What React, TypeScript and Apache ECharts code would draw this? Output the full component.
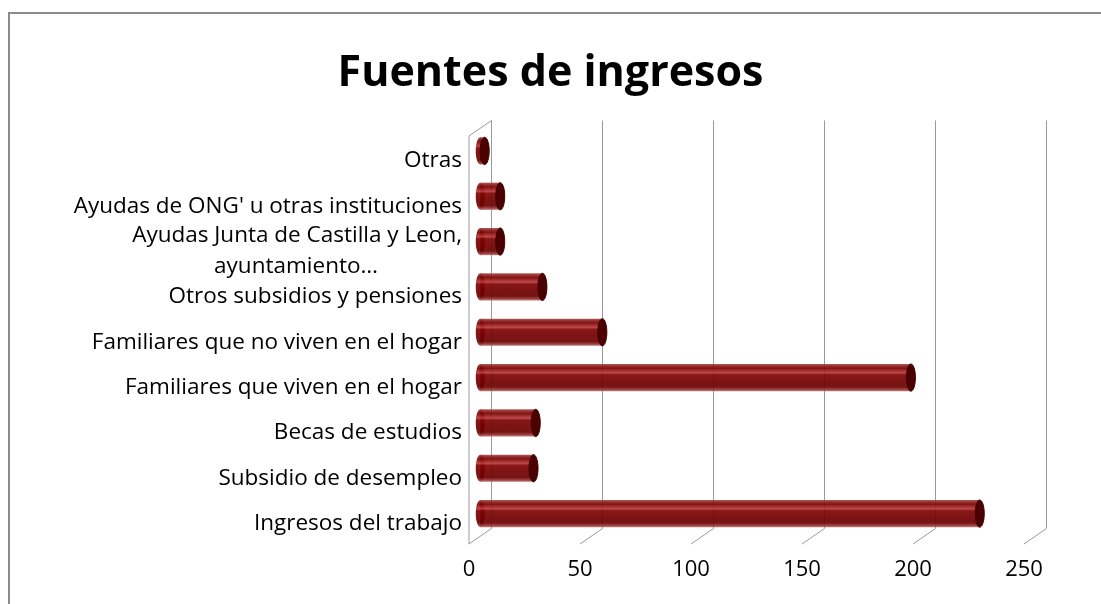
import React, { useEffect, useRef } from "react";
import * as echarts from "echarts";

const categories = [
  "Ingresos del trabajo",
  "Subsidio de desempleo",
  "Becas de estudios",
  "Familiares que viven en el hogar",
  "Familiares que no viven en el hogar",
  "Otros subsidios y pensiones",
  "Ayudas Junta de Castilla y Leon,\nayuntamiento…",
  "Ayudas de ONG' u otras instituciones",
  "Otras",
];
const values = [225, 24, 25, 194, 55, 28, 9, 9, 2];
const xTicks = [0, 50, 100, 150, 200, 250];

const DX = 22.5;
const DY = -15.5;
const FONT = "'Open Sans', 'Noto Sans', sans-serif";

export default function App() {
  const ref = useRef<HTMLDivElement>(null);
  useEffect(() => {
    if (!ref.current) return;
    const chart = echarts.init(ref.current, undefined, { renderer: "svg" });
    const bodyGrad = new echarts.graphic.LinearGradient(0, 0, 0, 1, [
      { offset: 0, color: "#a85050" },
      { offset: 0.08, color: "#8e1c1c" },
      { offset: 0.16, color: "#7a0000" },
      { offset: 0.27, color: "#a52828" },
      { offset: 0.33, color: "#b43a3a" },
      { offset: 0.39, color: "#820404" },
      { offset: 0.6, color: "#720000" },
      { offset: 0.84, color: "#6c0000" },
      { offset: 0.92, color: "#8e2a2a" },
      { offset: 1, color: "#b87070" },
    ]);
    chart.setOption({
      animation: false,
      title: {
        text: "Fuentes de ingresos",
        left: "center",
        top: 43,
        textStyle: { fontFamily: FONT, fontSize: 43, fontWeight: "bold", color: "#000" },
      },
      grid: { left: 469, top: 136, width: 555, height: 408 },
      xAxis: {
        type: "value",
        min: 0,
        max: 250,
        interval: 50,
        axisLine: { show: false },
        axisTick: { show: false },
        splitLine: { show: false },
        axisLabel: { fontFamily: FONT, fontSize: 22, color: "#000", margin: 12 },
      },
      yAxis: {
        type: "category",
        data: categories,
        axisLine: { show: false },
        axisTick: { show: false },
        axisLabel: {
          fontFamily: FONT,
          fontSize: 22.5,
          lineHeight: 26,
          color: "#000",
          margin: 7,
          formatter: (v: string) => {
            const parts = v.split("\n");
            if (parts.length > 1) return `{a|${parts[0]}}\n{b|${parts[1]}}`;
            return v;
          },
          rich: {
            a: { fontFamily: FONT, fontSize: 22.5, color: "#000", lineHeight: 31 },
            b: { fontFamily: FONT, fontSize: 22.5, color: "#000", lineHeight: 31, padding: [0, 84, 0, 0] },
          },
        },
      },
      series: [
        {
          type: "custom",
          z: 1,
          data: xTicks.map((t) => [t, 0]),
          renderItem: (params: any, api: any) => {
            const cs = params.coordSys;
            const x = api.coord([api.value(0), 0])[0];
            const top = cs.y;
            const bot = cs.y + cs.height;
            const stroke = { stroke: "#9a9a9a", lineWidth: 1 };
            const children: any[] = [
              { type: "line", shape: { x1: x + DX, y1: top + DY, x2: x + DX, y2: bot + DY }, style: stroke },
              { type: "line", shape: { x1: x + DX, y1: bot + DY, x2: x, y2: bot }, style: stroke },
            ];
            if (params.dataIndex === 0) {
              children.push(
                { type: "line", shape: { x1: x, y1: top, x2: x, y2: bot }, style: stroke },
                { type: "line", shape: { x1: x, y1: top, x2: x + DX, y2: top + DY }, style: stroke }
              );
            }
            return { type: "group", children };
          },
        },
        {
          type: "custom",
          z: 2,
          data: values.map((v, i) => [v, i]),
          renderItem: (params: any, api: any) => {
            const idx = api.value(1);
            const p0 = api.coord([0, idx]);
            const p1 = api.coord([api.value(0), idx]);
            const h = api.size([0, 1])[1] * 0.6;
            const ox = DX / 2;
            const oy = DY / 2;
            const x0 = p0[0] + ox;
            const x1 = p1[0] + ox;
            const cy = p0[1] + oy;
            const rx = 4.5;
            return {
              type: "group",
              children: [
                {
                  type: "ellipse",
                  shape: { cx: x0, cy, rx, ry: h / 2 },
                  style: { fill: bodyGrad, opacity: 0.92 },
                },
                {
                  type: "rect",
                  shape: { x: x0, y: cy - h / 2, width: Math.max(x1 - x0, 0), height: h },
                  style: { fill: bodyGrad, opacity: 0.92 },
                },
                {
                  type: "ellipse",
                  shape: { cx: x1, cy, rx, ry: h / 2 },
                  style: { fill: "#4c0000", stroke: "#3a0000", lineWidth: 1 },
                },
              ],
            };
          },
        },
      ],
    });
    return () => chart.dispose();
  }, []);
  return (
    <>
      <div
        ref={ref}
        style={{ position: "fixed", left: 0, top: 0, width: 1101, height: 604 }}
      />
      <div
        style={{
          position: "fixed",
          left: 8,
          top: 12,
          width: 1300,
          height: 800,
          borderTop: "2px solid #8c8c8c",
          borderLeft: "2px solid #8c8c8c",
          pointerEvents: "none",
        }}
      />
    </>
  );
}
